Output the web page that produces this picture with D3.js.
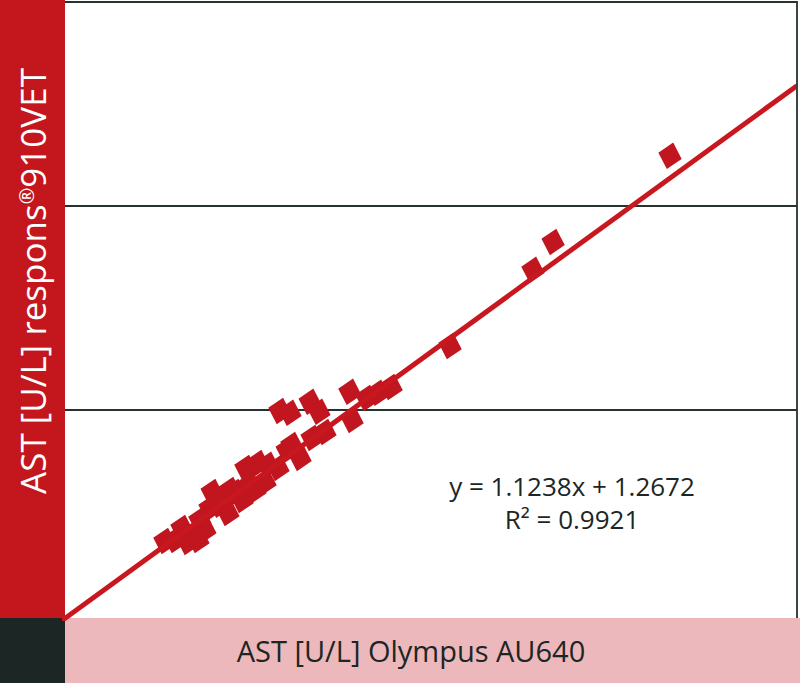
<!DOCTYPE html>
<html>
<head>
<meta charset="utf-8">
<script src="https://cdn.jsdelivr.net/npm/d3@7"></script>
<style>
  body { margin: 0; background: #fff; }
  svg { display: block; }
</style>
</head>
<body>
<svg id="chart"></svg>
<script>
// Olympus AU640 (x) vs respons 910VET (y), AST in U/L
const olympusAST = [
    189.0, 151.9, 145.5, 119.2, 100.5, 96.3, 92.8, 87.4, 88.1, 74.8,
    77.6, 65.2, 68.4, 79.5, 75.4, 69.0, 67.5, 71.6, 64.6, 61.4,
    58.3, 54.4, 60.5, 57.3, 53.2, 51.0, 49.4, 43.7, 48.7, 43.0,
    39.8, 41.4, 37.6, 34.1, 36.0, 31.9, 28.7, 39.2, 46.0, 55.6,
    46.8
];
const responsAST = [
    224.6, 182.4, 168.7, 131.4, 111.3, 108.4, 105.9, 108.9, 95.1, 104.0,
    99.1, 99.5, 98.6, 89.2, 86.3, 82.9, 80.4, 76.5, 71.6, 73.1,
    74.0, 71.6, 64.7, 60.8, 55.9, 59.8, 60.8, 59.8, 49.5, 52.0,
    46.1, 41.2, 38.7, 42.2, 35.3, 36.3, 35.8, 36.3, 53.5, 63.5,
    56.9
];
const gridValues = [100, 200];
const fitSlope = 1.1238;
const fitIntercept = 1.2672;
const fitLabel = "y = 1.1238x + 1.2672";
const r2Label = "R\u00b2 = 0.9921";
const xTitle = "AST [U/L] Olympus AU640";
const yTitleStart = "AST [U/L] respons";
const yTitleMark = "\u00ae";
const yTitleEnd = "910VET";

const width = 800, height = 683;
const plot = { left: 65, right: 797, top: 2, bottom: 614 };
const bandBottom = 618;
const red = "#c3161d";
const dark = "#1c2624";
const pink = "#ecb8bb";
const fontFamily = "'Open Sans', 'Noto Sans', sans-serif";

const svg = d3.select("#chart")
    .attr("width", width)
    .attr("height", height);

const x = d3.scaleLinear().domain([-3, 229.3]).range([plot.left, plot.right]);
const y = d3.scaleLinear().domain([0, 300]).range([plot.bottom, plot.top]);

// side bands
svg.append("rect")
    .attr("x", 0).attr("y", 0)
    .attr("width", plot.left).attr("height", bandBottom)
    .attr("fill", red);
svg.append("rect")
    .attr("x", plot.left).attr("y", bandBottom)
    .attr("width", width - plot.left).attr("height", height - bandBottom)
    .attr("fill", pink);
svg.append("rect")
    .attr("x", 0).attr("y", bandBottom)
    .attr("width", plot.left).attr("height", height - bandBottom)
    .attr("fill", dark);

// grid lines and frame
svg.append("g")
    .selectAll("line")
    .data(gridValues)
    .join("line")
    .attr("x1", plot.left).attr("x2", plot.right)
    .attr("y1", d => y(d)).attr("y2", d => y(d))
    .attr("stroke", "#27312e")
    .attr("stroke-width", 1.8);
svg.append("path")
    .attr("d", `M${plot.left},${plot.top}H${plot.right}V${bandBottom}`)
    .attr("fill", "none")
    .attr("stroke", "#27312e")
    .attr("stroke-width", 1.8);

// clip for the trend line
svg.append("clipPath").attr("id", "plotClip")
    .append("rect")
    .attr("x", plot.left - 3).attr("y", plot.top)
    .attr("width", plot.right - plot.left + 2)
    .attr("height", bandBottom - plot.top + 3);

// tilted square marker, like the original
const tiltedSquare = {
    draw(context, size) {
        const s = Math.sqrt(size) / 20;
        context.moveTo(3 * s, -12.5 * s);
        context.lineTo(11 * s, 3 * s);
        context.lineTo(-3 * s, 12.5 * s);
        context.lineTo(-11 * s, -3 * s);
        context.closePath();
    }
};
const points = olympusAST.map((v, i) => ({ x: v, y: responsAST[i] }));
svg.append("g")
    .selectAll("path")
    .data(points)
    .join("path")
    .attr("d", d3.symbol().type(tiltedSquare).size(450))
    .attr("transform", d => `translate(${x(d.x)},${y(d.y)})`)
    .attr("fill", "#c1161f");

// trend line
const xDom = x.domain();
svg.append("line")
    .attr("clip-path", "url(#plotClip)")
    .attr("x1", x(xDom[0] - 1)).attr("y1", y(fitSlope * (xDom[0] - 1) + fitIntercept))
    .attr("x2", x(xDom[1])).attr("y2", y(fitSlope * xDom[1] + fitIntercept))
    .attr("stroke", "#c8171f")
    .attr("stroke-width", 5);

// equation
svg.append("text")
    .attr("x", 572).attr("y", 496)
    .attr("text-anchor", "middle")
    .attr("font-family", fontFamily)
    .attr("font-size", 26)
    .attr("fill", dark)
    .text(fitLabel);
svg.append("text")
    .attr("x", 572).attr("y", 529)
    .attr("text-anchor", "middle")
    .attr("font-family", fontFamily)
    .attr("font-size", 26)
    .attr("fill", dark)
    .text(r2Label);

// axis titles
svg.append("text")
    .attr("x", 411).attr("y", 662)
    .attr("text-anchor", "middle")
    .attr("font-family", fontFamily)
    .attr("font-size", 29)
    .attr("fill", dark)
    .text(xTitle);
const yt = svg.append("text")
    .attr("transform", `translate(46, 281) rotate(-90)`)
    .attr("text-anchor", "middle")
    .attr("font-family", fontFamily)
    .attr("font-size", 35)
    .attr("fill", "#ffffff");
yt.append("tspan").text(yTitleStart);
yt.append("tspan").attr("font-size", 20).attr("dy", -12).text(yTitleMark);
yt.append("tspan").attr("dy", 12).text(yTitleEnd);
</script>
</body>
</html>
